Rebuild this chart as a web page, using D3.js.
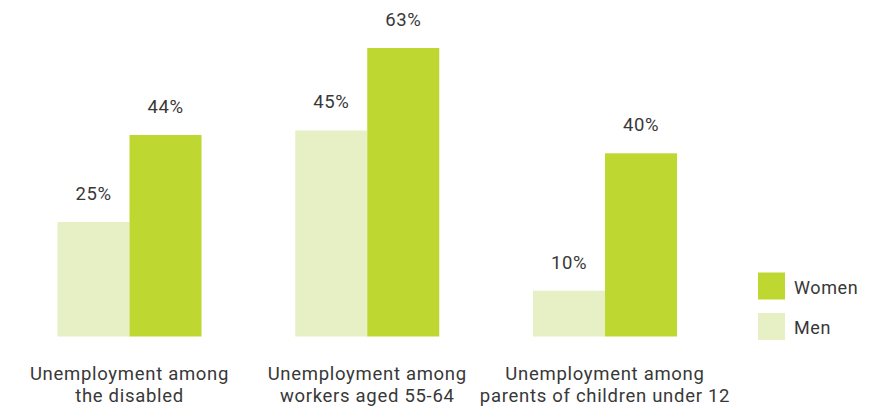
<!DOCTYPE html>
<html><head><meta charset="utf-8">
<script src="https://cdn.jsdelivr.net/npm/d3@7"></script>
<style>body{margin:0;background:#fff}svg{display:block}text{font-family:Roboto,sans-serif;fill:#383838}</style>
</head><body><svg id="c" width="871" height="406"></svg>
<script>
const categories = [["Unemployment among","the disabled"],["Unemployment among","workers aged 55-64"],["Unemployment among","parents of children under 12"]];
const seriesNames = ["Men","Women"];
const men = [25,45,10];
const women = [44,63,40];
const colors = {Men:"#e7efc5", Women:"#bed731"};

const svg = d3.select("#c");
const x0 = d3.scaleBand().domain(d3.range(3)).range([57.5, 677]).paddingInner(0.3943).paddingOuter(0);
const x1 = d3.scaleBand().domain(seriesNames).range([0, x0.bandwidth()]);
const y = d3.scaleLinear().domain([0,63]).range([336.5,48]);
const data = {Men:men, Women:women};

const g = svg.append("g");
categories.forEach((c,i)=>{
  seriesNames.forEach(s=>{
    const v = data[s][i];
    g.append("text").attr("x", x0(i)+x1(s)+x1.bandwidth()/2).attr("y", y(v)-22).attr("text-anchor","middle").attr("font-size",18.5).attr("letter-spacing",0.6).text(v+"%");
    g.append("rect").attr("x", x0(i)+x1(s)).attr("y", y(v)).attr("width", x1.bandwidth()).attr("height", y(0)-y(v)).attr("fill", colors[s]);
  });
  c.forEach((l,j)=>g.append("text").attr("x", x0(i)+x0.bandwidth()/2).attr("y", 379.5+j*22).attr("text-anchor","middle").attr("font-size",18.5).attr("letter-spacing",0.7).text(l));
});
const leg = svg.append("g");
["Women","Men"].forEach((s,i)=>{
  leg.append("rect").attr("x",758).attr("y",272.5+i*40.5).attr("width",27).attr("height",27).attr("fill",colors[s]);
  leg.append("text").attr("x",794).attr("y",293.5+i*40.5).attr("font-size",18).attr("letter-spacing",0.6).text(s);
});
</script></body></html>
